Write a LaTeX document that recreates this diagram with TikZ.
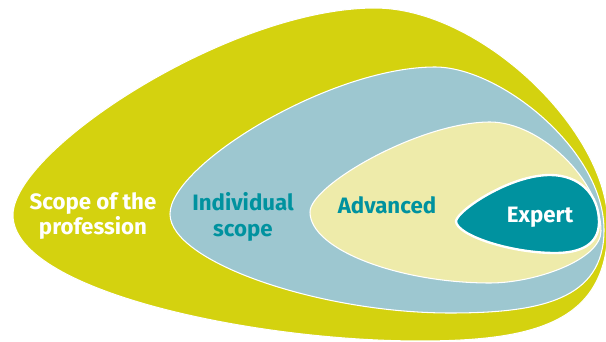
\documentclass[tikz,border=0pt]{standalone}
\usepackage{fontspec}
\setmainfont{Fira Sans}
\usetikzlibrary{calc}
\definecolor{ProfLime}{HTML}{D4D20F}
\definecolor{IndivBlue}{HTML}{9DC7D0}
\definecolor{AdvCream}{HTML}{EEEBAA}
\definecolor{ExpTeal}{HTML}{00929F}
\tikzset{
    zone/.style = {draw=white, line width=0.9pt},
    zonetext/.style = {anchor=center, align=center, font=\fontsize{19}{22}\selectfont\bfseries}
}

\begin{document}
\begin{tikzpicture}[x=0.03cm,y=-0.03cm]
                \useasboundingbox (0,0) rectangle (606,342);
                \clip (0,0) rectangle (606,342);
                \filldraw[zone,fill=ProfLime] (13,215) .. controls (13,150) and (230,8) .. (375,8)
                    .. controls (480,8) and (608,130) .. (608,225)
                    .. controls (608,320) and (540,341) .. (420,341)
                    .. controls (250,341) and (13,290) .. cycle;
                \filldraw[zone,fill=IndivBlue] (170,214) .. controls (170,165) and (330,67) .. (435,67)
                    .. controls (500,67) and (604,150) .. (604,230)
                    .. controls (604,300) and (540,313) .. (450,313)
                    .. controls (320,313) and (170,262) .. cycle;
                \filldraw[zone,fill=AdvCream] (310,212) .. controls (310,185) and (420,122) .. (490,122)
                    .. controls (540,122) and (601,180) .. (601,231)
                    .. controls (601,260) and (535,283) .. (490,283)
                    .. controls (400,283) and (310,250) .. cycle;
                \filldraw[zone,line width=2pt,fill=ExpTeal] (456,221) .. controls (458,210) and (510,175) .. (550,175)
                    .. controls (580,175) and (599,195) .. (599,222)
                    .. controls (599,245) and (580,253) .. (555,253)
                    .. controls (510,253) and (456,235) .. cycle;
                \node [zonetext,text=white] (scope) at (93,216) {Scope of the\\profession};
                \node [zonetext,text=ExpTeal] (indiv) at (243,217) {Individual\\scope};
                \node [zonetext,text=ExpTeal] (adv) at (387,205) {Advanced};
                \node [zonetext,text=white] (expert) at (540,217) {Expert};
            \end{tikzpicture}
\end{document}
